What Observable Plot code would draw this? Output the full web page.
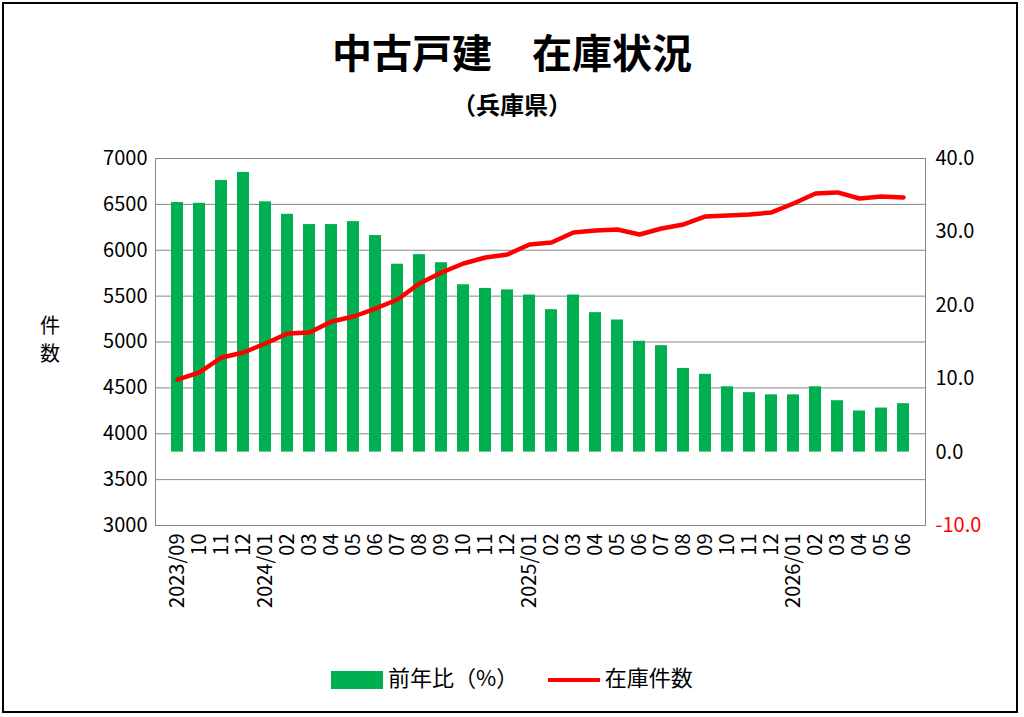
<!DOCTYPE html>
<html><head><meta charset="utf-8">
<script src="https://cdn.jsdelivr.net/npm/d3@7"></script>
<script src="https://cdn.jsdelivr.net/npm/@observablehq/plot@0.6"></script>
<style>
body{margin:0;background:#fff;font-family:"Noto Sans CJK JP","Noto Sans",sans-serif;}
#frame{position:absolute;left:2px;top:2px;width:1016px;height:711px;border:2px solid #000;box-sizing:border-box;}
#title{position:absolute;top:22px;width:1024px;text-align:center;font-size:40px;font-weight:bold;}
#sub{position:absolute;top:86px;width:1024px;text-align:center;font-size:24px;font-weight:bold;}
#chart{position:absolute;left:0;top:140px;}
.yl{position:absolute;left:40px;font-size:20px;line-height:22px;}
#legend{position:absolute;top:660px;width:1024px;text-align:center;font-size:22px;}
.sw{display:inline-block;vertical-align:middle;}
</style></head><body>
<div id="frame"></div>
<div id="title">中古戸建　在庫状況</div>
<div id="sub">（兵庫県）</div>
<div class="yl" style="top:314px">件</div>
<div class="yl" style="top:342px">数</div>
<div id="chart"></div>
<div id="legend"><span class="sw" style="width:52px;height:18px;background:#00b050"></span> 前年比（%）&nbsp;&nbsp;&nbsp;&nbsp;&nbsp;&nbsp;<span class="sw" style="width:52px;height:4px;background:#ff0000"></span> 在庫件数</div>
<script>
const months = ["2023/09","10","11","12","2024/01","02","03","04","05","06","07","08","09","10","11","12","2025/01","02","03","04","05","06","07","08","09","10","11","12","2026/01","02","03","04","05","06"];
const yoy = [34.0,33.9,37.0,38.1,34.1,32.4,31.0,31.0,31.4,29.5,25.6,26.9,25.8,22.8,22.3,22.1,21.4,19.4,21.4,19.0,18.0,15.1,14.5,11.4,10.6,8.9,8.1,7.8,7.8,8.9,7.0,5.6,6.0,6.6];
const stock = [4590,4668,4831,4886,4984,5093,5104,5223,5278,5365,5463,5638,5757,5856,5921,5954,6063,6085,6193,6215,6226,6172,6237,6281,6368,6379,6390,6412,6510,6619,6630,6564,6586,6575];
const leftTicks = [3000,3500,4000,4500,5000,5500,6000,6500,7000];
const rightTicks = [-10,0,10,20,30,40];
const r2l = v => 3000 + (v + 10) * 80;
const rows = months.map((m,i)=>({i, m, yoy:yoy[i], stock:stock[i]}));
const chart = Plot.plot({
  width:1024, height:490, marginLeft:155, marginRight:99, marginTop:18, marginBottom:105,
  style:{fontSize:"20px", fontFamily:"'Noto Sans CJK JP',sans-serif", color:"#000"},
  x:{type:"band", domain:d3.range(months.length), padding:0.45},
  y:{domain:[3000,7000]},
  marks:[
    Plot.gridY(leftTicks,{stroke:"#888", strokeOpacity:1}),
    Plot.frame({stroke:"#888", anchor:"left"}),
    Plot.frame({stroke:"#888", anchor:"right"}),
    Plot.barY(rows,{x:"i", y1:r2l(0), y2:d=>r2l(d.yoy), fill:"#00b050"}),
    Plot.line(rows,{x:"i", y:"stock", stroke:"#ff0000", strokeWidth:4.5}),
    Plot.axisY(leftTicks,{anchor:"left", tickSize:0, tickPadding:8, label:null, fontSize:20, tickFormat:d=>String(d)}),
    Plot.text(rightTicks,{x:null, y:d=>r2l(d), frameAnchor:"right", dx:10, textAnchor:"start", text:d=>d.toFixed(1), fill:d=>d<0?"#ff0000":"#000", fontSize:20}),
    Plot.axisX({tickRotate:-90, tickSize:0, tickPadding:8, label:null, tickFormat:i=>months[i], fontSize:20})
  ]
});
document.getElementById("chart").append(chart);
</script>
</body></html>
